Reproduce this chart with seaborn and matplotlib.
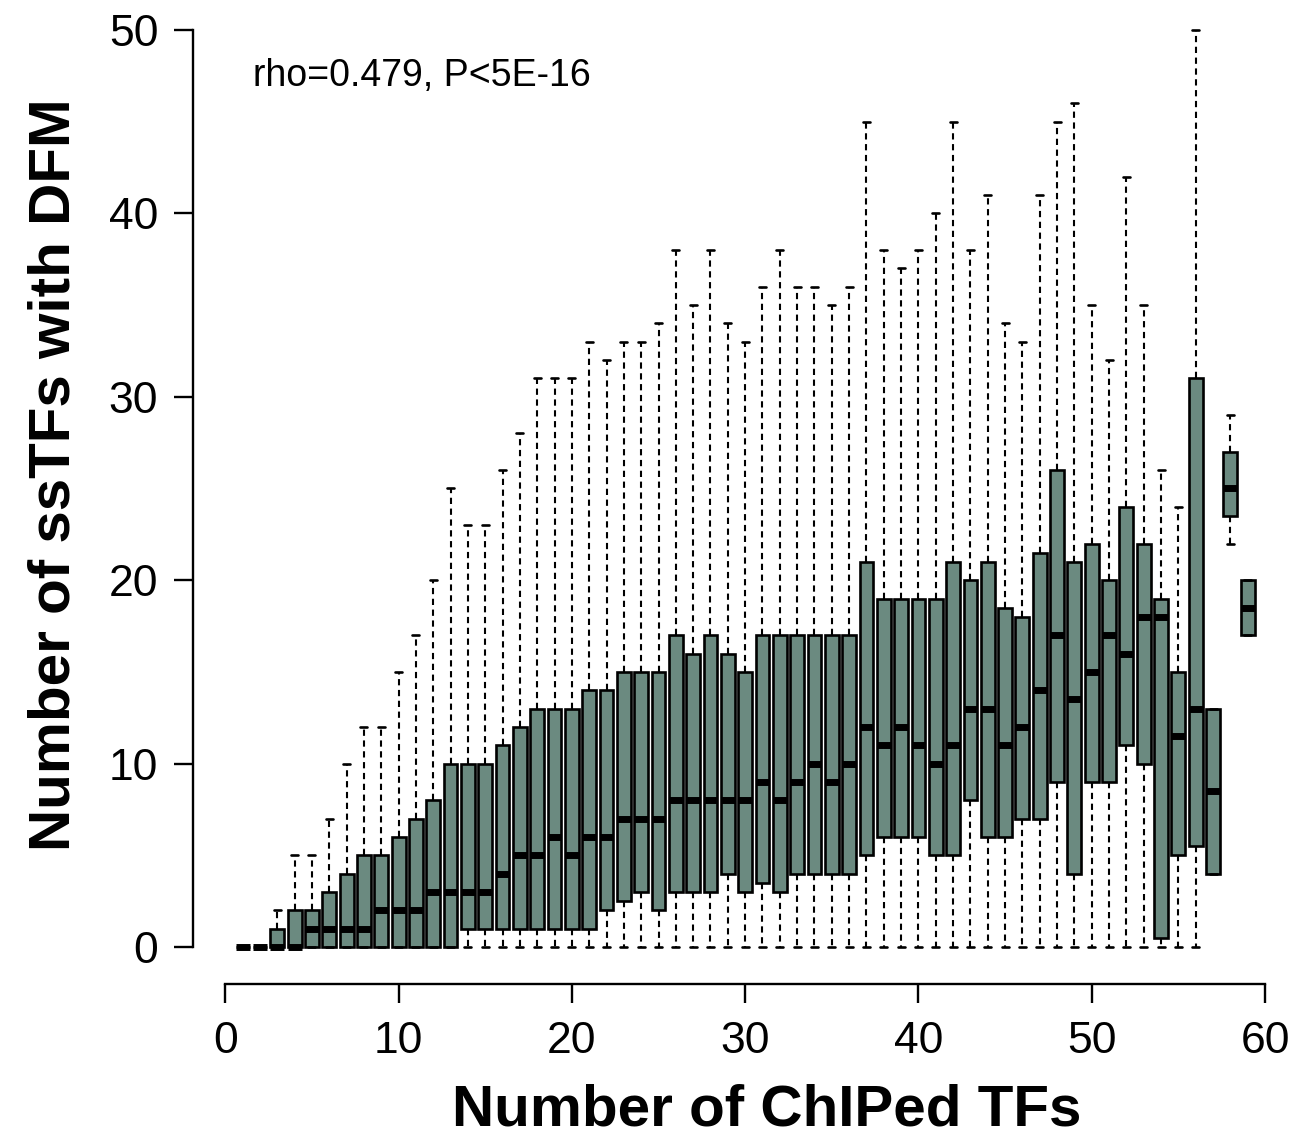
import numpy as np
import pandas as pd
import matplotlib
matplotlib.use("Agg")
import matplotlib.pyplot as plt
import seaborn as sns

# Number of ChIPed TFs (group) and per-group summary of ssTFs with DFM
n_chiped = list(range(1, 60))
whisker_lo = [0, 0, 0, 0, 0, 0, 0, 0, 0, 0, 0, 0, 0, 0, 0, 0, 0, 0, 0, 0,
              0, 0, 0, 0, 0, 0, 0, 0, 0, 0, 0, 0, 0, 0, 0, 0, 0, 0, 0, 0,
              0, 0, 0, 0, 0, 0, 0, 0, 0, 0, 0, 0, 0, 0, 0, 0, 4, 22, 17]
q1 = [0, 0, 0, 0, 0, 0, 0, 0, 0, 0, 0, 0, 0, 1, 1, 1, 1, 1, 1, 1,
      1, 2, 2.5, 3, 2, 3, 3, 3, 4, 3, 3.5, 3, 4, 4, 4, 4, 5, 6, 6, 6,
      5, 5, 8, 6, 6, 7, 7, 9, 4, 9, 9, 11, 10, 0.5, 5, 5.5, 4, 23.5, 17]
median = [0, 0, 0, 0, 1, 1, 1, 1, 2, 2, 2, 3, 3, 3, 3, 4, 5, 5, 6, 5,
          6, 6, 7, 7, 7, 8, 8, 8, 8, 8, 9, 8, 9, 10, 9, 10, 12, 11, 12, 11,
          10, 11, 13, 13, 11, 12, 14, 17, 13.5, 15, 17, 16, 18, 18, 11.5, 13, 8.5, 25, 18.5]
q3 = [0, 0, 1, 2, 2, 3, 4, 5, 5, 6, 7, 8, 10, 10, 10, 11, 12, 13, 13, 13,
      14, 14, 15, 15, 15, 17, 16, 17, 16, 15, 17, 17, 17, 17, 17, 17, 21, 19, 19, 19,
      19, 21, 20, 21, 18.5, 18, 21.5, 26, 21, 22, 20, 24, 22, 19, 15, 31, 13, 27, 20]
whisker_hi = [0, 0, 2, 5, 5, 7, 10, 12, 12, 15, 17, 20, 25, 23, 23, 26, 28, 31, 31, 31,
              33, 32, 33, 33, 34, 38, 35, 38, 34, 33, 36, 38, 36, 36, 35, 36, 45, 38, 37, 38,
              40, 45, 38, 41, 34, 33, 41, 45, 46, 35, 32, 42, 35, 26, 24, 50, 13, 29, 20]

# Five-number summaries laid out as long-form rows per group
df = pd.DataFrame({
    "ChIPed": np.repeat(n_chiped, 5),
    "ssTFs": np.column_stack([whisker_lo, q1, median, q3, whisker_hi]).ravel(),
})

sns.set_style("ticks")
plt.rcParams["font.family"] = ["Liberation Sans", "DejaVu Sans"]
plt.rcParams["text.color"] = "black"
plt.rcParams["xtick.color"] = "black"
plt.rcParams["ytick.color"] = "black"

fig = plt.figure(figsize=(12.93, 11.42), dpi=100)
ax = fig.add_axes([0.1493, 0.1386, 0.854, 0.8673])

sns.boxplot(
    data=df, x="ChIPed", y="ssTFs", native_scale=True, ax=ax,
    whis=(0, 100), width=0.8, color="#6B8A80", saturation=1,
    linecolor="black", linewidth=1.9, fliersize=0,
    whiskerprops=dict(linestyle=(0, (3, 2.2)), linewidth=1.5),
    capprops=dict(linewidth=1.9),
    medianprops=dict(linewidth=5, color="black", solid_capstyle="butt"),
    capwidths=0.4,
)

ax.set_xlim(-1.86, 61.86)
ax.set_ylim(-2, 52)
ax.set_xticks([0, 10, 20, 30, 40, 50, 60])
ax.set_yticks([0, 10, 20, 30, 40, 50])
ax.set_xticklabels(["0", "10", "20", "30", "40", "50", "60"])
ax.set_yticklabels(["0", "10", "20", "30", "40", "50"])
ax.tick_params(axis="both", labelsize=32, length=14, width=1.7, pad=11,
               color="black", labelcolor="black")
ax.tick_params(axis="x", pad=13)
for side in ("top", "right"):
    ax.spines[side].set_visible(False)
ax.spines["left"].set_bounds(0, 50)
ax.spines["bottom"].set_bounds(0, 60)
for side in ("left", "bottom"):
    ax.spines[side].set_linewidth(1.7)
    ax.spines[side].set_color("black")

ax.set_xlabel("")
ax.set_ylabel("")
fig.text(767 / 1293, 1 - 1110 / 1142, "Number of ChIPed TFs", fontsize=42,
         fontweight="bold", ha="center", va="center", color="black")
fig.text(55 / 1293, 1 - 475 / 1142, "Number of ssTFs with DFM", fontsize=42,
         fontweight="bold", ha="center", va="center", rotation=90, color="black")

ax.text(1.6, 47.5, "rho=0.479, P<5E-16", fontsize=27, ha="left", va="center",
        color="black")

fig.savefig("out.png", dpi=100)
